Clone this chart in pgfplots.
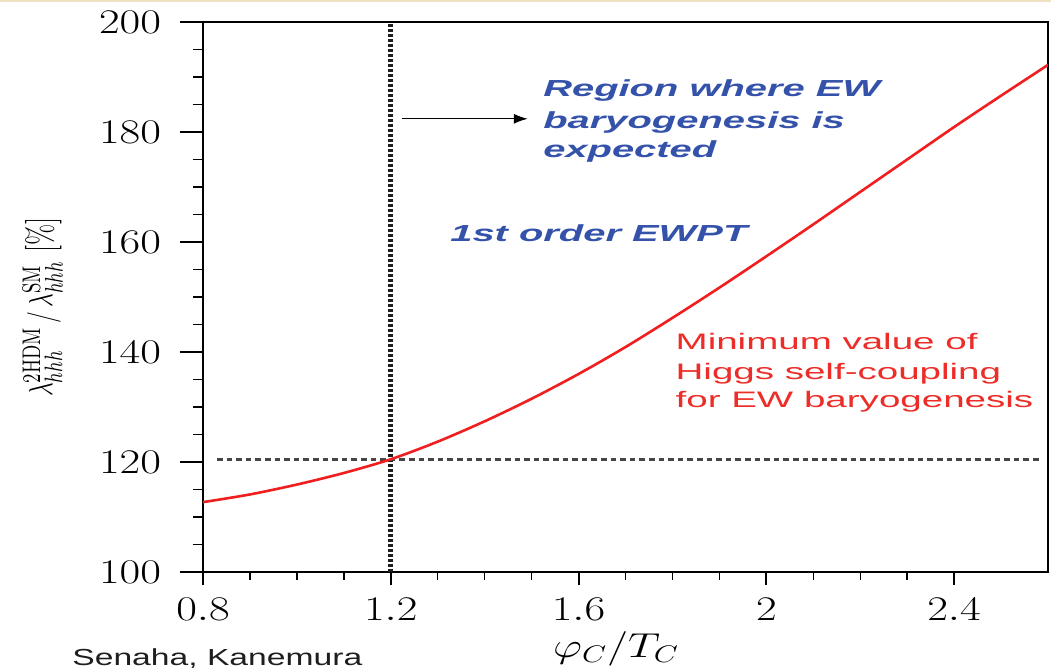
\documentclass[border=0pt]{standalone}
\usepackage{fontspec}
\usepackage{graphicx}
\usepackage{pgfplots}
\pgfplotsset{compat=1.18}
\usetikzlibrary{arrows.meta}

% wide sans used for the annotations on the plot
\newfontfamily\notefont[FakeStretch=1.72]{Liberation Sans}
\newfontfamily\creditfont[FakeStretch=1.45]{Liberation Sans}

\definecolor{notered}{RGB}{236,45,40}
\definecolor{curvered}{RGB}{240,30,30}
\definecolor{noteblue}{RGB}{52,82,170}
\definecolor{guidegray}{RGB}{30,30,30}
\definecolor{dashgray}{RGB}{70,70,70}
\definecolor{slideedge}{RGB}{238,226,192}

% minimum triple Higgs coupling ratio vs. phi_C/T_C
\pgfplotstableread{
x    y
0.8  112.7
0.9  114.1
1.0  115.9
1.1  118.0
1.2  120.5
1.3  123.7
1.4  127.4
1.5  131.5
1.6  136.0
1.7  140.9
1.8  146.2
1.9  151.7
2.0  157.4
2.1  163.2
2.2  169.1
2.3  175.0
2.4  180.9
2.5  186.6
2.6  192.2
}\lambdaratio

\begin{document}
\begin{tikzpicture}
\useasboundingbox (-101.5pt,-48.5pt) rectangle (424pt,286pt);
\fill[slideedge] (-101.5pt,284.8pt) rectangle (424pt,286pt);
\begin{axis}[
  at={(0pt,0pt)}, anchor=south west,
  scale only axis, width=422.5pt, height=275pt,
  xmin=0.8, xmax=2.6, ymin=100, ymax=200,
  xtick={0.8,1.2,1.6,2,2.4},
  ytick={100,120,140,160,180,200},
  minor x tick num=3, minor y tick num=3,
  xtick pos=bottom, ytick pos=left,
  tick align=outside,
  major tick length=6.5pt, minor tick length=3.8pt,
  y tick style={/pgfplots/major tick length=11.5pt,/pgfplots/minor tick length=5pt},
  axis line style={line width=1.3pt},
  major tick style={line width=1pt, black},
  minor tick style={line width=0.7pt, black},
  tick label style={font=\fontsize{17}{20}\selectfont},
  xticklabel={\scalebox{1.3}[1]{$\pgfmathprintnumber{\tick}$}},
  yticklabel={\scalebox{1.3}[1]{$\pgfmathprintnumber{\tick}$}},
  xticklabel style={yshift=-3pt},
  yticklabel style={xshift=-11pt},
  xlabel={\scalebox{1.3}[1]{$\varphi_C/T_C$}},
  xlabel style={font=\fontsize{17}{20}\selectfont, at={(axis description cs:0.489,-0.14)}, anchor=center},
  ylabel={\scalebox{1}[1.4]{$\lambda^{\mathrm{2HDM}}_{hhh}\,/\,\lambda^{\mathrm{SM}}_{hhh}$ [\%]}},
  ylabel style={font=\fontsize{13}{16}\selectfont, at={(axis description cs:-0.19,0.482)}, anchor=center},
  clip=true,
]
% guide lines through the threshold point
\addplot[guidegray, line width=2.4pt, dash pattern=on 1.5pt off 1pt] coordinates {(1.2,100) (1.2,200)};
\addplot[dashgray, line width=1.4pt, dash pattern=on 2.8pt off 2pt] coordinates {(0.83,120.5) (2.58,120.5)};
% minimum coupling curve
\addplot[curvered, line width=1.3pt, smooth] table[x=x, y=y] {\lambdaratio};
% arrow into the baryogenesis region
\addplot[black, line width=0.7pt, -{Latex[length=7pt,width=5pt]}] coordinates {(1.224,182.4) (1.492,182.4)};

\begin{scope}[every node/.style={anchor=base west, inner sep=0pt}]
\node[text=noteblue, font=\notefont\bfseries\itshape\fontsize{11.6}{14}\selectfont] at (axis cs:1.524,186.4) {Region where EW};
\node[text=noteblue, font=\notefont\bfseries\itshape\fontsize{11.6}{14}\selectfont] at (axis cs:1.524,180.6) {baryogenesis is};
\node[text=noteblue, font=\notefont\bfseries\itshape\fontsize{11.6}{14}\selectfont] at (axis cs:1.524,175.3) {expected};
\node[text=noteblue, font=\notefont\bfseries\itshape\fontsize{11.6}{14}\selectfont] at (axis cs:1.326,160.05) {1st order EWPT};
\node[text=notered, font=\notefont\fontsize{11.2}{14}\selectfont] at (axis cs:1.806,140.5) {Minimum value of};
\node[text=notered, font=\notefont\fontsize{11.2}{14}\selectfont] at (axis cs:1.806,135.0) {Higgs self-coupling};
\node[text=notered, font=\notefont\fontsize{11.2}{14}\selectfont] at (axis cs:1.806,129.9) {for EW baryogenesis};
\end{scope}
\end{axis}
\node[anchor=base west, inner sep=0pt, text={rgb,255:red,30;green,30;blue,30}, font=\creditfont\fontsize{11.6}{14}\selectfont] at (-65.5pt,-47pt) {Senaha, Kanemura};
\end{tikzpicture}
\end{document}
